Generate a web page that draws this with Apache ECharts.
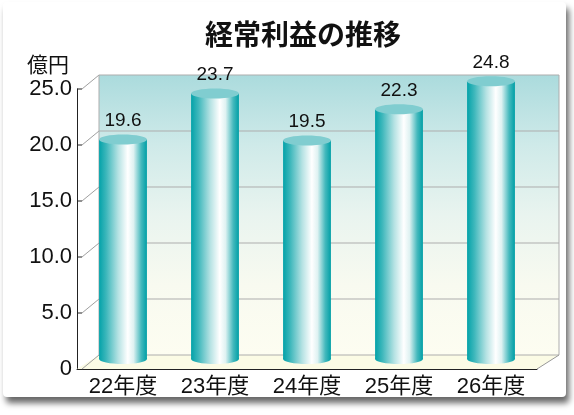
<!DOCTYPE html>
<html>
<head>
<meta charset="utf-8">
<script src="https://cdn.jsdelivr.net/npm/echarts@6/dist/echarts.min.js"></script>
<style>
  html, body { margin: 0; padding: 0; background: #fff; }
  #chart { width: 574px; height: 415px; }
</style>
</head>
<body>
<div id="chart"></div>
<script>
const categories = ['22年度', '23年度', '24年度', '25年度', '26年度'];
const values = [19.6, 23.7, 19.5, 22.3, 24.8];
const yTicks = [0, 5, 10, 15, 20, 25];

const FONT = "'Liberation Sans', 'Noto Sans CJK JP', sans-serif";
// 3D depth offset of the back wall, and offset of the bar plane
const DEPTH = [22, -14];
const BAR_SHIFT = -10;

const chart = echarts.init(document.getElementById('chart'));

// draws back wall, floor and grid lines from the grid's own scale
function renderFrame(params, api) {
  const cs = params.coordSys;
  const x0 = cs.x, x1 = cs.x + cs.width;
  const dx = DEPTH[0], dy = DEPTH[1];
  const y = v => api.coord([0, v])[1];
  const yTop = y(yTicks[yTicks.length - 1]), yBot = y(0);
  const children = [];
  children.push({
    type: 'polygon',
    shape: { points: [[x0 + dx, yTop + dy], [x1 + dx, yTop + dy], [x1 + dx, yBot + dy], [x0 + dx, yBot + dy]] },
    style: {
      fill: new echarts.graphic.LinearGradient(0, 0, 0, 1, [
        { offset: 0, color: '#abdbdd' },
        { offset: 0.25, color: '#cfeae9' },
        { offset: 0.5, color: '#e9f4ef' },
        { offset: 0.75, color: '#f8faf0' },
        { offset: 1, color: '#fdfdf1' }
      ])
    }
  });
  children.push({
    type: 'polygon',
    shape: { points: [[x0, yBot], [x1, yBot], [x1 + dx, yBot + dy], [x0 + dx, yBot + dy]] },
    style: { fill: '#fbfbe5' }
  });
  yTicks.forEach(v => {
    const yy = y(v);
    children.push({
      type: 'line',
      shape: { x1: x0 + dx, y1: yy + dy, x2: x1 + dx, y2: yy + dy },
      style: { stroke: '#adadad', lineWidth: 1 }
    });
    children.push({
      type: 'line',
      shape: { x1: x0 + 5, y1: yy, x2: x0 + dx, y2: yy + dy },
      style: { stroke: '#a0a0a0', lineWidth: 1 }
    });
    if (v !== 0) {
      children.push({
        type: 'line',
        shape: { x1: x0, y1: yy, x2: x0 + 5, y2: yy },
        style: { stroke: '#222', lineWidth: 1 }
      });
    }
  });
  children.push({
    type: 'line',
    shape: { x1: x0 + dx, y1: yTop + dy, x2: x0 + dx, y2: yBot + dy },
    style: { stroke: '#adadad', lineWidth: 1 }
  });
  children.push({
    type: 'line',
    shape: { x1: x1 + dx, y1: yTop + dy, x2: x1 + dx, y2: yBot + dy },
    style: { stroke: '#adadad', lineWidth: 1 }
  });
  children.push({
    type: 'line',
    shape: { x1: x1, y1: yBot, x2: x1 + dx, y2: yBot + dy },
    style: { stroke: '#999', lineWidth: 1 }
  });
  return { type: 'group', children: children };
}

const bodyGrad = () => new echarts.graphic.LinearGradient(0, 0, 1, 0, [
  { offset: 0, color: '#03a2a9' },
  { offset: 0.15, color: '#3db7bb' },
  { offset: 0.4, color: '#b5e2e3' },
  { offset: 0.6, color: '#ffffff' },
  { offset: 0.72, color: '#dff2f2' },
  { offset: 0.88, color: '#45b9bd' },
  { offset: 1, color: '#009fa6' }
]);

function renderBar(params, api) {
  const idx = api.value(0), v = api.value(1);
  const p0 = api.coord([idx, 0]);
  const p1 = api.coord([idx, v]);
  const w = api.size([1, 0])[0] * 0.52;
  const cx = p0[0];
  const yb = p0[1] + BAR_SHIFT, yt = p1[1] + BAR_SHIFT;
  const ry = 5;
  return {
    type: 'group',
    children: [
      { type: 'ellipse', shape: { cx: cx, cy: yb, rx: w / 2, ry: ry }, style: { fill: bodyGrad() } },
      { type: 'rect', shape: { x: cx - w / 2, y: yt, width: w, height: yb - yt }, style: { fill: bodyGrad() } },
      { type: 'ellipse', shape: { cx: cx, cy: yt, rx: w / 2, ry: ry }, style: { fill: '#80cdd0' } },
      {
        type: 'text',
        style: {
          x: cx, y: yt - ry - 4, text: v.toFixed(1),
          textAlign: 'center', textVerticalAlign: 'bottom',
          font: '19px ' + FONT, fill: '#111'
        }
      }
    ]
  };
}

const option = {
  animation: false,
  backgroundColor: '#fff',
  title: {
    text: '経常利益の推移',
    left: 200,
    top: 18,
    textStyle: { fontSize: 28, fontWeight: 'bold', color: '#111', fontFamily: FONT }
  },
  graphic: [
    {
      type: 'rect', z: -10,
      shape: { x: 3, y: 2, width: 563, height: 395, r: 4 },
      style: { fill: '#fff', shadowBlur: 6, shadowOffsetX: 3, shadowOffsetY: 6, shadowColor: 'rgba(0,0,0,0.6)' }
    },
    {
      type: 'text', left: 27, top: 56,
      style: { text: '億円', font: '21px ' + FONT, fill: '#111' }
    }
  ],
  grid: { left: 77, right: 37, top: 89, bottom: 46, containLabel: false },
  xAxis: {
    type: 'category',
    data: categories,
    boundaryGap: true,
    axisLine: { lineStyle: { color: '#222', width: 1 } },
    axisTick: { show: true, inside: true, length: 5, lineStyle: { color: '#222' } },
    axisLabel: { fontSize: 22, color: '#111', margin: 7, fontFamily: FONT },
    splitLine: { show: false }
  },
  yAxis: {
    type: 'value',
    min: 0, max: 25, interval: 5,
    axisLine: { show: true, lineStyle: { color: '#222', width: 1 } },
    axisTick: { show: false },
    axisLabel: {
      fontSize: 22, color: '#111', margin: 5, fontFamily: FONT,
      formatter: v => v === 0 ? '0' : v.toFixed(1)
    },
    splitLine: { show: false }
  },
  series: [
    {
      type: 'custom',
      name: 'frame',
      z: 1,
      silent: true,
      renderItem: renderFrame,
      data: [[0, 0]]
    },
    {
      type: 'custom',
      name: '経常利益',
      z: 3,
      renderItem: renderBar,
      encode: { x: 0, y: 1 },
      data: categories.map((c, i) => [i, values[i]])
    }
  ]
};

chart.setOption(option);
</script>
</body>
</html>
